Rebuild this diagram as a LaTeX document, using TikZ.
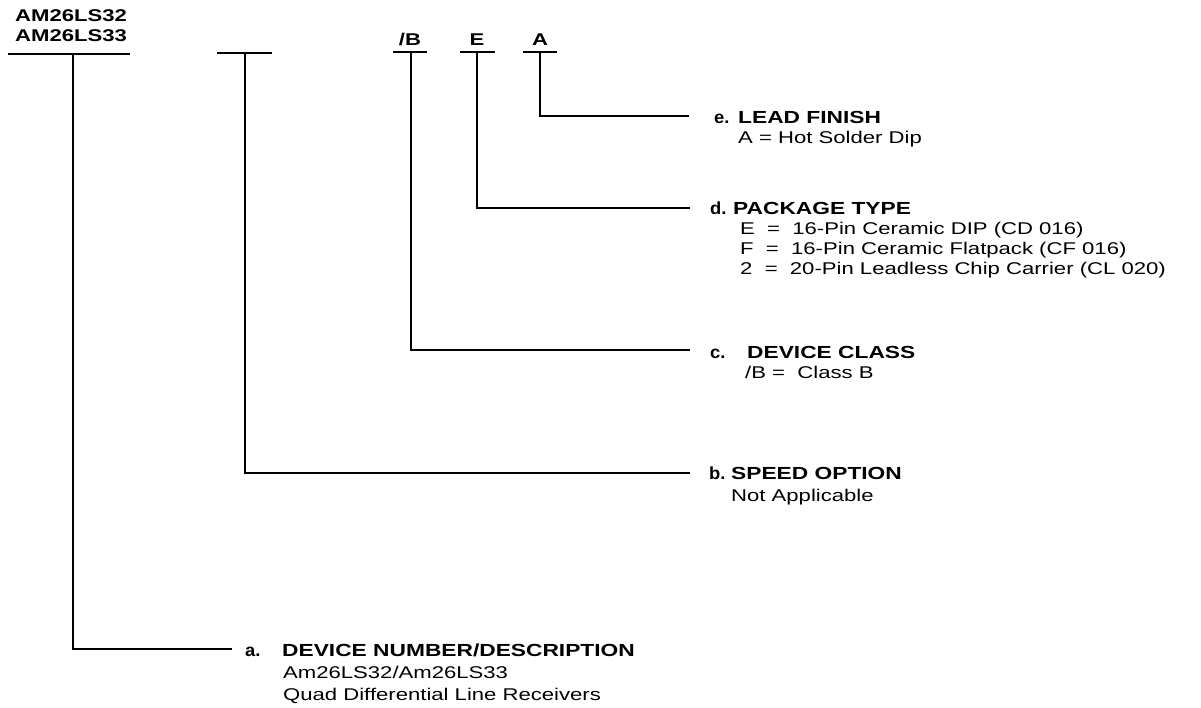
\documentclass[tikz,border=0pt]{standalone}
\usepackage{fontspec}
\setmainfont{Liberation Sans}[FakeStretch=1.3]
\newfontfamily\lblfam{Liberation Sans}[FakeStretch=1.05]
\newcommand{\hdfont}{\fontsize{17.5}{20}\selectfont\bfseries}
\newcommand{\rgfont}{\fontsize{17}{20}\selectfont}
\newcommand{\lbfont}{\lblfam\fontsize{17.5}{20}\selectfont\bfseries}
\begin{document}
\begin{tikzpicture}[x=1pt,y=-1pt,
  txt/.style={anchor=base west,inner sep=0pt},
  top/.style={anchor=base,inner sep=0pt,font=\fontsize{17}{20}\selectfont\bfseries},
  uline/.style={line width=2.6pt},
  conn/.style={line width=1.8pt}]
\useasboundingbox (0,0) rectangle (1201,708);
% top labels
\node[top,anchor=base west] (dev1) at (15,21.5) {AM26LS32};
\node[top,anchor=base west] (dev2) at (15,41.5) {AM26LS33};
\node[top] (cls) at (410,46) {/B};
\node[top] (pkg) at (477,46) {E};
\node[top] (fin) at (540,46) {A};
% underlines
\coordinate (u1l) at (8,54); \coordinate (u1r) at (130,54);
\coordinate (u2l) at (217,53); \coordinate (u2r) at (272,53);
\coordinate (u3l) at (393,52); \coordinate (u3r) at (427,52);
\coordinate (u4l) at (460,52); \coordinate (u4r) at (495,52);
\coordinate (u5l) at (523,52); \coordinate (u5r) at (557,52);
\draw[uline] (u1l) -- (u1r);
\draw[uline] (u2l) -- (u2r);
\draw[uline] (u3l) -- (u3r);
\draw[uline] (u4l) -- (u4r);
\draw[uline] (u5l) -- (u5r);
\coordinate (t1) at (73,54);
\coordinate (t2) at (245,53);
\coordinate (t3) at (411,52);
\coordinate (t4) at (477,52);
\coordinate (t5) at (540,52);
% ends of connectors
\coordinate (ea) at (232,649);
\coordinate (eb) at (690,473);
\coordinate (ec) at (690,350);
\coordinate (ed) at (690,208);
\coordinate (ee) at (689,116);
\draw[conn] (t1) |- (ea);
\draw[conn] (t2) |- (eb);
\draw[conn] (t3) |- (ec);
\draw[conn] (t4) |- (ed);
\draw[conn] (t5) |- (ee);
% e
\node[txt,font=\lbfont] (le) at (714,123.5) {e.};
\node[txt,font=\hdfont] (he) at (738,123.5) {LEAD FINISH};
\node[txt,font=\rgfont] (e1) at (738,144) {A = Hot Solder Dip};
% d
\node[txt,font=\lbfont] (ld) at (710,215) {d.};
\node[txt,font=\hdfont] (hd) at (733,215) {PACKAGE TYPE};
\node[txt,font=\rgfont] (d1) at (740,235) {E \ = \ 16-Pin Ceramic DIP (CD 016)};
\node[txt,font=\rgfont] (d2) at (740,255) {F \ = \ 16-Pin Ceramic Flatpack (CF 016)};
\node[txt,font=\rgfont] (d3) at (740,275) {2 \ = \ 20-Pin Leadless Chip Carrier (CL 020)};
% c
\node[txt,font=\lbfont] (lc) at (710,358) {c.};
\node[txt,font=\hdfont] (hc) at (747,358) {DEVICE CLASS};
\node[txt,font=\rgfont] (c1) at (745,378) {/B = \ Class B};
% b
\node[txt,font=\lbfont] (lb) at (709,479) {b.};
\node[txt,font=\hdfont] (hb) at (731,479) {SPEED OPTION};
\node[txt,font=\rgfont] (b1) at (731,501) {Not Applicable};
% a
\node[txt,font=\lbfont] (la) at (245,656) {a.};
\node[txt,font=\hdfont] (ha) at (282,656) {DEVICE NUMBER/DESCRIPTION};
\node[txt,font=\rgfont] (a1) at (283,678) {Am26LS32/Am26LS33};
\node[txt,font=\rgfont] (a2) at (283,700) {Quad Differential Line Receivers};
\end{tikzpicture}
\end{document}
